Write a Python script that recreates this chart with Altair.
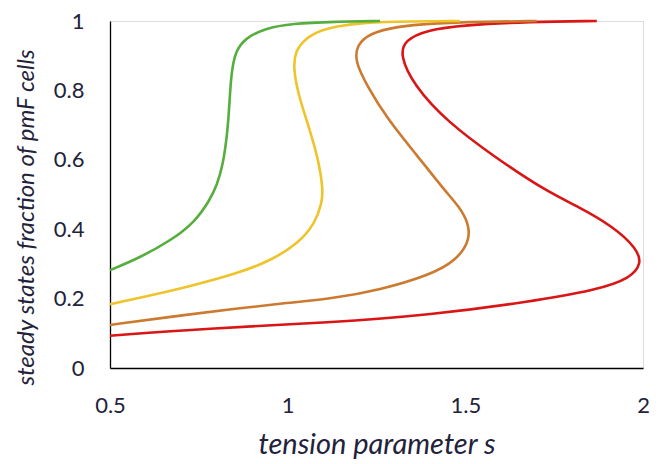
import altair as alt
import pandas as pd

# Series (s = tension parameter, f = steady-state fraction of pmF cells)
green_f = [0.282, 0.316, 0.369, 0.421, 0.484, 0.527, 0.585, 0.681, 0.777, 0.844, 0.912, 0.950, 0.979, 0.993, 0.998, 1.0]
green_s = [0.50, 0.58, 0.674, 0.739, 0.781, 0.801, 0.818, 0.831, 0.837, 0.841, 0.852, 0.880, 0.936, 1.011, 1.133, 1.26]

yellow_f = [0.184, 0.201, 0.234, 0.273, 0.311, 0.359, 0.417, 0.475, 0.513, 0.604, 0.700, 0.787, 0.864, 0.912, 0.950, 0.974, 0.984, 0.996, 0.999, 1.0]
yellow_s = [0.50, 0.58, 0.72, 0.861, 0.955, 1.030, 1.077, 1.096, 1.100, 1.086, 1.058, 1.030, 1.016, 1.021, 1.049, 1.096, 1.133, 1.212, 1.35, 1.485]

orange_f = [0.124, 0.148, 0.172, 0.188, 0.199, 0.225, 0.268, 0.311, 0.369, 0.417, 0.465, 0.510, 0.614, 0.720, 0.816, 0.883, 0.931, 0.965, 0.984, 0.993, 0.998, 1.0]
orange_s = [0.50, 0.674, 0.861, 1.00, 1.120, 1.260, 1.401, 1.476, 1.513, 1.509, 1.483, 1.443, 1.363, 1.279, 1.222, 1.190, 1.194, 1.232, 1.307, 1.401, 1.55, 1.701]

red_f = [0.093, 0.114, 0.131, 0.153, 0.191, 0.225, 0.258, 0.302, 0.345, 0.407, 0.465, 0.510, 0.604, 0.710, 0.816, 0.902, 0.945, 0.974, 0.988, 0.998, 1.0]
red_s = [0.50, 0.767, 1.125, 1.401, 1.682, 1.870, 1.964, 1.997, 1.982, 1.917, 1.818, 1.727, 1.588, 1.448, 1.354, 1.316, 1.330, 1.391, 1.494, 1.682, 1.870]

series = [
    ("red", red_s, red_f, "#D91515"),
    ("orange", orange_s, orange_f, "#CC7A30"),
    ("yellow", yellow_s, yellow_f, "#EEC42A"),
    ("green", green_s, green_f, "#55AE3E"),
]

x_ticks = [0.5, 1, 1.5, 2]
y_ticks = [0, 0.2, 0.4, 0.6, 0.8, 1]

FONT = "Lato"
TXT = "#22223A"

x_axis = alt.Axis(
    values=x_ticks, format="~g", grid=False, ticks=False,
    domainColor="#000000", domainWidth=1.3,
    labelFont=FONT, labelFontSize=22, labelColor=TXT, labelPadding=27,
    labelFlush=False,
    title="tension parameter s", titleFont=FONT, titleFontSize=29,
    titleFontStyle="italic", titleFontWeight="normal", titleColor=TXT,
    titleBaseline="alphabetic", titleY=85,
)
y_axis = alt.Axis(
    values=y_ticks, format="~g", grid=False, ticks=False,
    domainColor="#000000", domainWidth=1.3,
    labelFont=FONT, labelFontSize=22, labelColor=TXT, labelPadding=26,
    labelFlush=False,
    title="steady states fraction of pmF cells", titleFont=FONT, titleFontSize=24,
    titleFontStyle="italic", titleFontWeight="normal", titleColor=TXT,
    titleAngle=270, titleBaseline="alphabetic", titleAlign="center",
    titleX=-77, titleY=196,
)

layers = []
for name, s_vals, f_vals, col in series:
    df = pd.DataFrame({"s": s_vals, "f": f_vals, "series": name})
    layers.append(
        alt.Chart(df).mark_line(interpolate="basis", strokeWidth=2.6, color=col).encode(
            x=alt.X("s:Q", scale=alt.Scale(domain=[0.5, 2], nice=False, zero=False), axis=x_axis),
            y=alt.Y("f:Q", scale=alt.Scale(domain=[0, 1], nice=False, zero=False), axis=y_axis),
            order=alt.Order("f:Q"),
        )
    )

chart = alt.layer(*layers).properties(
    width=533, height=347,
    autosize=alt.AutoSizeParams(type="none"),
    padding={"left": 102, "top": 13, "right": 10, "bottom": 100},
).configure_view(strokeWidth=0).configure(background="white")

chart.save("out.html", embed_options={"renderer": "svg", "actions": False})
